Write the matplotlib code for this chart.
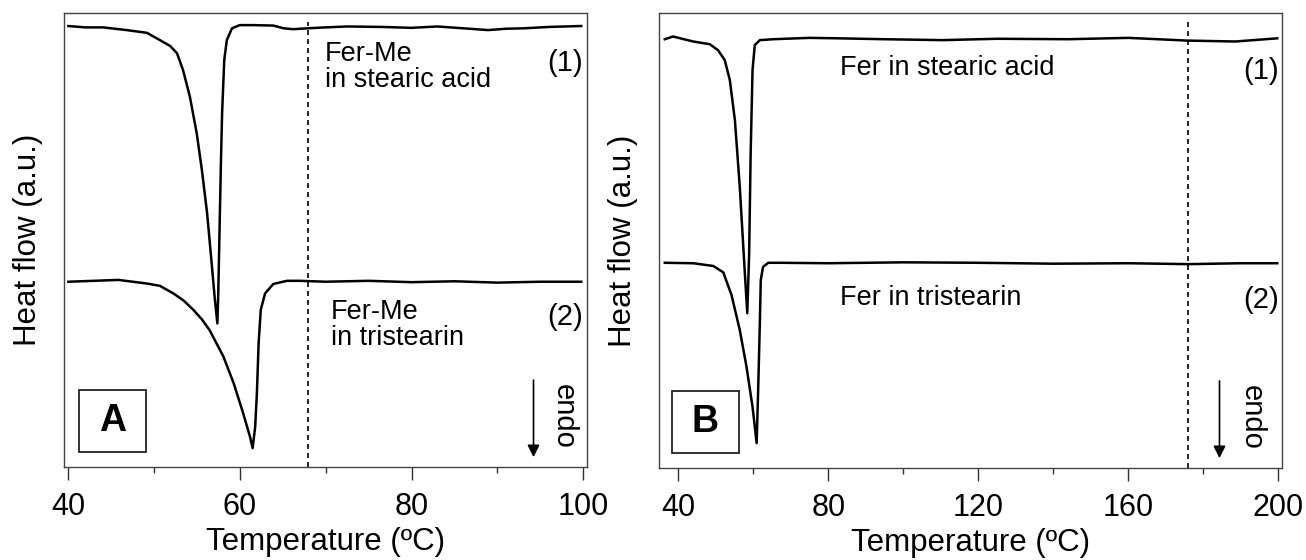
# DSC thermograms: Fer-Me (A) and Fer (B) in stearic acid / tristearin
import numpy as np
import matplotlib
matplotlib.use("Agg")
import matplotlib.pyplot as plt
from matplotlib.patches import Rectangle
from matplotlib.ticker import MultipleLocator

plt.rcParams['font.family'] = ['Liberation Sans', 'DejaVu Sans']

# ---- panel A data (temperature in C, heat flow in a.u.) ----
a1_T = [40.05, 42.0, 44.1, 46.85, 49.2, 50.7, 51.9, 52.7, 53.4, 54.2, 55.0, 55.6,
        56.2, 56.7, 57.1, 57.4, 57.5, 57.65, 57.8, 57.95, 58.2, 58.5, 59.1, 60.0,
        61.55, 63.9, 65.1, 66.2, 67.9, 70.0, 72.5, 76.5, 80.0, 83.0, 86.0, 88.9,
        91.0, 93.1, 96.0, 99.75]
a1_hf = [97.2, 96.9, 96.9, 96.3, 95.7, 94.1, 92.8, 91.2, 87.5, 81.6, 73.5, 65.4,
         56.0, 45.6, 37.0, 31.6, 38.0, 52.0, 66.0, 78.0, 89.7, 94.1, 96.7, 97.4,
         97.4, 97.3, 96.7, 96.5, 96.7, 96.9, 97.1, 97.0, 96.8, 97.1, 96.7, 96.3,
         96.6, 96.7, 97.0, 97.2]

a2_T = [40.05, 43.0, 45.9, 49.2, 50.7, 52.3, 53.5, 54.6, 55.6, 56.5, 58.1, 59.3,
        60.4, 61.2, 61.5, 61.8, 62.0, 62.2, 62.45, 62.95, 63.9, 65.5, 67.0, 70.0,
        75.0, 80.0, 85.0, 90.0, 95.0, 99.75]
a2_hf = [40.8, 41.0, 41.2, 40.4, 39.9, 38.2, 36.6, 34.6, 32.5, 30.1, 24.3, 18.4,
         11.8, 6.6, 4.1, 8.8, 16.2, 27.2, 34.6, 38.2, 40.3, 41.0, 41.0, 40.8,
         41.0, 40.7, 40.9, 40.6, 40.8, 40.8]

# ---- panel B data ----
b1_T = [36.4, 38.6, 41.0, 44.0, 48.4, 50.6, 52.4, 53.75, 55.1, 56.4, 57.7, 58.4,
        58.9, 59.3, 59.8, 60.4, 61.75, 65.3, 75.0, 82.6, 95.0, 110.5, 125.0,
        143.9, 160.0, 175.7, 188.5, 199.7]
b1_hf = [94.3, 94.9, 94.4, 93.8, 93.2, 91.9, 89.7, 85.3, 76.5, 61.8, 43.5, 34.0,
         47.2, 69.2, 87.5, 93.0, 94.1, 94.3, 94.6, 94.5, 94.3, 94.1, 94.4,
         94.3, 94.6, 94.0, 93.8, 94.5]

b2_T = [36.4, 44.0, 49.3, 52.0, 54.2, 56.4, 58.2, 59.8, 60.9, 61.3, 61.75, 62.0,
        62.6, 64.0, 67.1, 80.0, 100.0, 120.0, 140.0, 160.0, 176.0, 190.0, 199.7]
b2_hf = [45.1, 45.0, 44.4, 43.0, 38.0, 30.3, 22.2, 13.4, 5.4, 17.1, 31.8, 41.3,
         44.2, 45.1, 45.1, 45.0, 45.2, 45.1, 44.9, 45.0, 44.8, 45.0, 45.0]

a_ticks = [40, 60, 80, 100]
b_ticks = [40, 80, 120, 160, 200]
a_dash_T = 68
b_dash_T = 176

fig = plt.figure(figsize=(13.06, 5.6), dpi=100)
axA = fig.add_axes([0.0487, 0.1666, 0.4006, 0.8096])
axB = fig.add_axes([0.5047, 0.1648, 0.4773, 0.8114])

lw = 1.8
fs_tick = 22
fs_lab = 22.5
fs_txt = 19.5
fs_num = 21


def style_axes(ax, xlim, ticks, minor):
    ax.set_xlim(*xlim)
    ax.set_ylim(0, 100)
    ax.set_xticks(ticks)
    ax.xaxis.set_minor_locator(MultipleLocator(minor))
    ax.set_yticks([])
    ax.tick_params(axis='x', which='major', direction='out', length=9,
                   width=1, labelsize=fs_tick, pad=9, color='#333333')
    ax.tick_params(axis='x', which='minor', direction='out', length=4,
                   width=1, color='#333333')
    for s in ax.spines.values():
        s.set_linewidth(1.0)
        s.set_color('#444444')
    ax.set_xlabel('Temperature (ºC)', fontsize=fs_lab, labelpad=4)
    ax.set_ylabel('Heat flow (a.u.)', fontsize=fs_lab, labelpad=15)


def letter_box(ax, x0, w, letter):
    ax.add_patch(Rectangle((x0, 0.032), w, 0.137, transform=ax.transAxes,
                           fill=False, lw=1.3, ec='#222222'))
    ax.text(x0 + w / 2, 0.100, letter, transform=ax.transAxes, ha='center',
            va='center', fontsize=27, fontweight='bold')


def endo(ax, x_arrow, x_text):
    ax.annotate('', xy=(x_arrow, 2.1), xytext=(x_arrow, 19.1),
                arrowprops=dict(arrowstyle='-|>', lw=1.2, color='k',
                                mutation_scale=18, shrinkA=0, shrinkB=0))
    ax.text(x_text, 11.0, 'endo', rotation=-90, ha='center', va='center',
            fontsize=fs_num)


# panel A
axA.plot(a1_T, a1_hf, color='k', lw=lw)
axA.plot(a2_T, a2_hf, color='k', lw=lw)
axA.axvline(a_dash_T, ymin=0, ymax=0.98, color='k', lw=1.2, ls=(0, (3, 2.4)))
style_axes(axA, (39.5, 100.4), a_ticks, 10)
axA.text(69.9, 88.1, 'Fer-Me\nin stearic acid', fontsize=fs_txt, ha='left',
         va='center', linespacing=1.0)
axA.text(70.6, 31.3, 'Fer-Me\nin tristearin', fontsize=fs_txt, ha='left',
         va='center', linespacing=1.0)
axA.text(100.0, 89.0, '(1)', fontsize=fs_num, ha='right', va='center')
axA.text(100.0, 33.1, '(2)', fontsize=fs_num, ha='right', va='center')
letter_box(axA, 0.0287, 0.1296, 'A')
endo(axA, 94.2, 97.7)

# panel B
axB.plot(b1_T, b1_hf, color='k', lw=lw)
axB.plot(b2_T, b2_hf, color='k', lw=lw)
axB.axvline(b_dash_T, ymin=0, ymax=0.98, color='k', lw=1.2, ls=(0, (3, 2.4)))
style_axes(axB, (34.9, 201.1), b_ticks, 20)
axB.text(83.2, 87.9, 'Fer in stearic acid', fontsize=fs_txt, ha='left', va='center')
axB.text(83.2, 37.3, 'Fer in tristearin', fontsize=fs_txt, ha='left', va='center')
axB.text(200.2, 87.2, '(1)', fontsize=fs_num, ha='right', va='center')
axB.text(200.2, 36.9, '(2)', fontsize=fs_num, ha='right', va='center')
letter_box(axB, 0.020, 0.108, 'B')
endo(axB, 184.3, 192.9)

fig.savefig('out.png', dpi=100)
